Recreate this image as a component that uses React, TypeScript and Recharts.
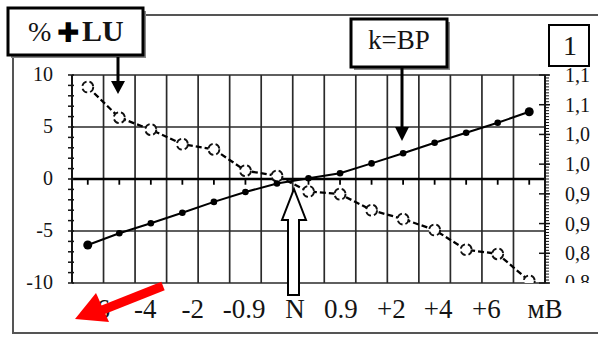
import { LineChart, Line, XAxis, YAxis, ReferenceLine } from "recharts";

// column centres (15 measurement steps)
const xCenters = [0.5, 1.5, 2.5, 3.5, 4.5, 5.5, 6.5, 7.5, 8.5, 9.5, 10.5, 11.5, 12.5, 13.5, 14.5];
// k = BP (filled dots)
const bpValues = [-6.35, -5.22, -4.26, -3.24, -2.2, -1.25, -0.43, 0.07, 0.55, 1.5, 2.47, 3.49, 4.45, 5.41, 6.47];
// % +LU (hollow dots, dashed)
const luValues = [8.85, 5.9, 4.75, 3.35, 2.85, 0.8, 0.3, -1.2, -1.45, -3.0, -3.85, -4.9, -6.8, -7.2, -9.8];

const xLabels = ["-6", "-4", "-2", "-0.9", "N", "0.9", "+2", "+4", "+6", "мВ"];
const xLabelPos = [0.85, 2.32, 3.83, 5.46, 7.07, 8.53, 10.13, 11.61, 13.14, 15.0];
const gridX = [0, 1, 2, 3, 4, 5, 6, 7, 8, 9, 10, 11, 12, 13, 14, 15];
const gridY = [-10, -5, 5, 10];
const leftTicks = [-10, -9, -8, -7, -6, -5, -4, -3, -2, -1, 0, 1, 2, 3, 4, 5, 6, 7, 8, 9, 10];
const rightLabelTicks = [0.77, 0.82, 0.87, 0.92, 0.97, 1.02, 1.07, 1.12];
const rightMinorTicks = Array.from({ length: 71 }, (_, i) => +(0.77 + i * 0.005).toFixed(3));

const chartData = xCenters.map((x, i) => ({ x, bp: bpValues[i], lu: luValues[i] }));

const SERIF = "'Liberation Serif', 'DejaVu Serif', serif";
const INK = "#141414";
const GRID = "#2a2a2a";

function LeftTick(props: any) {
  const { x, y, payload } = props;
  const v = payload.value as number;
  return (
    <g>
      <line x1={x - 4} x2={x + 2} y1={y} y2={y} stroke={INK} strokeWidth={1.5} />
      {v % 5 === 0 && (
        <text x={x - 19} y={y + 6} textAnchor="end" fontFamily={SERIF} fontSize={20} fill={INK}>
          {v}
        </text>
      )}
    </g>
  );
}

function RightTick(props: any) {
  const { x, y, payload } = props;
  const v = payload.value as number;
  const major = rightLabelTicks.some((t) => Math.abs(t - v) < 1e-6);
  const label = v.toFixed(1).replace(".", ",");
  return (
    <g>
      <line x1={x} x2={x + 4} y1={y} y2={y} stroke={INK} strokeWidth={1} />
      {major && <line x1={x - 6} x2={x + 5} y1={y} y2={y} stroke={INK} strokeWidth={1.5} />}
      {major &&
        (Math.abs(v - 0.77) < 1e-6 ? (
          <svg x={x} y={y - 15} width={50} height={15} overflow="hidden">
            <text x={20} y={21} fontFamily={SERIF} fontSize={20} fill={INK}>
              {label}
            </text>
          </svg>
        ) : (
          <text x={x + 20} y={y + 7} fontFamily={SERIF} fontSize={20} fill={INK}>
            {label}
          </text>
        ))}
    </g>
  );
}

function BottomTick(props: any) {
  const { x, y, index } = props;
  return (
    <text x={x} y={y + 35} textAnchor="middle" fontFamily={SERIF} fontSize={27} fill={INK}>
      {xLabels[index]}
    </text>
  );
}

function BpDot(props: any) {
  const { cx, cy, index } = props;
  const r = index === 0 || index === xCenters.length - 1 ? 4.5 : 3.3;
  return <circle key={`bp-${index}`} cx={cx} cy={cy} r={r} fill="#000" />;
}

export default function App() {
  return (
    <div style={{ position: "absolute", left: 0, top: 0, width: 598, height: 338, background: "#fff" }}>
      <LineChart
        width={598}
        height={338}
        data={chartData}
        margin={{ top: 75, right: 0, bottom: 0, left: 0 }}
      >
        <XAxis
          dataKey="x"
          type="number"
          domain={[0, 15]}
          ticks={xLabelPos}
          interval={0}
          tickSize={0}
          tickMargin={0}
          axisLine={false}
          tickLine={false}
          height={55}
          tick={<BottomTick />}
        />
        <YAxis
          yAxisId="left"
          type="number"
          domain={[-10, 10]}
          allowDataOverflow
          ticks={leftTicks}
          interval={0}
          width={72}
          tickSize={0}
          tickMargin={0}
          tickLine={false}
          axisLine={{ stroke: INK, strokeWidth: 2 }}
          tick={<LeftTick />}
        />
        <YAxis
          yAxisId="right"
          orientation="right"
          type="number"
          domain={[0.77, 1.12]}
          allowDataOverflow
          ticks={rightMinorTicks}
          interval={0}
          width={53}
          tickSize={0}
          tickMargin={0}
          tickLine={false}
          axisLine={{ stroke: INK, strokeWidth: 2 }}
          tick={<RightTick />}
        />

        {gridX.map((g) => (
          <ReferenceLine key={`gx${g}`} yAxisId="left" x={g} stroke={GRID} strokeWidth={1.7} />
        ))}
        {gridY.map((g) => (
          <ReferenceLine key={`gy${g}`} yAxisId="left" y={g} stroke={GRID} strokeWidth={1.7} />
        ))}
        <ReferenceLine yAxisId="left" y={0} stroke="#000" strokeWidth={2.6} />
        {xCenters.map((c) => (
          <ReferenceLine
            key={`zt${c}`}
            yAxisId="left"
            segment={[
              { x: c, y: 0 },
              { x: c, y: -0.55 },
            ]}
            stroke="#000"
            strokeWidth={1.8}
          />
        ))}

        <Line
          yAxisId="left"
          type="linear"
          dataKey="lu"
          stroke="#000"
          strokeWidth={2.3}
          strokeDasharray="6 3"
          dot={{ r: 5.5, fill: "#fff", stroke: "#111", strokeWidth: 1.8 }}
          isAnimationActive={false}
        />
        <Line
          yAxisId="left"
          type="linear"
          dataKey="bp"
          stroke="#000"
          strokeWidth={2}
          dot={<BpDot />}
          isAnimationActive={false}
        />
      </LineChart>

      {/* frame, callout boxes and arrows */}
      <svg
        width={598}
        height={338}
        style={{ position: "absolute", left: 0, top: 0, pointerEvents: "none" }}
      >
        <rect x={13} y={15} width={600} height={318} fill="none" stroke="#555" strokeWidth={2} />

        <rect x={11} y={11} width={135} height={47} fill="#888" />
        <rect x={8} y={8} width={135} height={47} fill="#fff" stroke="#000" strokeWidth={3} />
        <text x={28} y={41} fontFamily={SERIF} fontSize={28} fill={INK}>
          %
        </text>
        <text x={57} y={42} fontFamily="'DejaVu Sans', sans-serif" fontSize={27} fontWeight={700} fill="#000">
          ✚
        </text>
        <text x={82} y={41} fontFamily={SERIF} fontSize={30} fontWeight={700} fill={INK}>
          LU
        </text>
        <line x1={118} y1={57} x2={118} y2={84} stroke="#000" strokeWidth={3} />
        <polygon points="111,81 125,81 118,94" fill="#000" />

        <rect x={354} y={22} width={96} height={48} fill="#888" />
        <rect x={351} y={19} width={96} height={48} fill="#fff" stroke="#000" strokeWidth={3} />
        <text x={399} y={49} textAnchor="middle" fontFamily={SERIF} fontSize={27} fill={INK}>
          k=BP
        </text>
        <line x1={402} y1={68} x2={402} y2={130} stroke="#000" strokeWidth={3} />
        <polygon points="395,127 409,127 402,141" fill="#000" />

        <rect x={549} y={25} width={40} height={41} fill="#fff" stroke="#000" strokeWidth={2} />
        <text x={570} y={55} textAnchor="middle" fontFamily={SERIF} fontSize={28} fill={INK}>
          1
        </text>

        <polygon
          points="294,189 306,220 299,220 299,295 288,295 288,220 282,220"
          fill="#fff"
          stroke="#000"
          strokeWidth={2}
          strokeLinejoin="miter"
        />

        <line x1={163} y1={286} x2={100} y2={311} stroke="#f00" strokeWidth={9} />
        <polygon points="75,319 96,293 109,322" fill="#f00" />
      </svg>
    </div>
  );
}
